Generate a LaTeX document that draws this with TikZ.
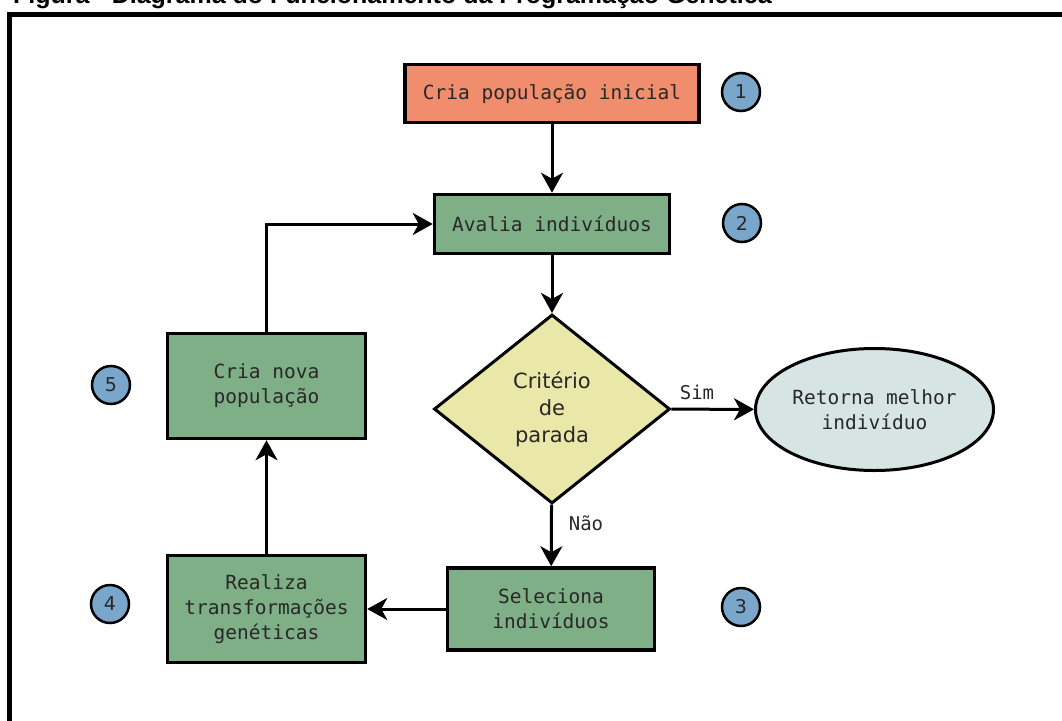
\documentclass[tikz,border=0pt]{standalone}
\usepackage{fontspec}
\setmainfont{DejaVu Sans}
\setmonofont{DejaVu Sans Mono}
\newfontfamily\titlefont{Liberation Sans}
\usetikzlibrary{shapes.geometric,arrows.meta}
\definecolor{boxorange}{RGB}{240,141,109}
\definecolor{boxgreen}{RGB}{127,175,134}
\definecolor{diayellow}{RGB}{234,232,168}
\definecolor{ellblue}{RGB}{214,228,228}
\definecolor{numblue}{RGB}{122,166,203}
\definecolor{txt}{RGB}{40,40,40}
\begin{document}
\begin{tikzpicture}[x=1pt,y=-1pt,
  proc/.style={draw=black, line width=3.5pt, rectangle, inner sep=0pt,
    font=\fontsize{19.5}{25}\selectfont\ttfamily, text=txt, align=center},
  numcirc/.style={circle, draw=black, line width=2.5pt, fill=numblue,
    minimum size=38pt, inner sep=0pt, font=\fontsize{19}{19}\selectfont, text=txt},
  conn/.style={line width=3pt, -{Stealth[length=20pt,width=22pt,inset=6pt]}},
  lbl/.style={font=\fontsize{19}{19}\selectfont\ttfamily, text=txt}
]
\useasboundingbox (0,0) rectangle (1062,720);
\clip (0,0) rectangle (1062,720);
\fill[white] (0,0) rectangle (1062,720);

% title (mostly cropped) and frame
\node[anchor=base west, inner sep=0pt, text=black,
  font=\titlefont\fontsize{25}{25}\selectfont\bfseries] (title) at (13,4)
  {Figura - Diagrama do Funcionamento da Programação Genética};
\draw[line width=5pt] (9,740) -- (9,14.5) -- (1080,14.5);

% process nodes
\node[proc, fill=boxorange, minimum width=294pt, minimum height=58pt] (init) at (552,93.5) {Cria população inicial};
\node[proc, fill=boxgreen, minimum width=235pt, minimum height=59pt] (eval) at (552,224) {Avalia indivíduos};
\node[diamond, draw=black, line width=3pt, fill=diayellow, minimum width=236pt, minimum height=189pt,
  inner sep=0pt, align=center, font=\fontsize{21}{27}\selectfont, text=txt] (dec) at (552,409) {Critério\\de\\parada};
\node[ellipse, draw=black, line width=3pt, fill=ellblue, minimum width=238pt, minimum height=122pt,
  inner sep=0pt, align=center, font=\fontsize{19.5}{25}\selectfont\ttfamily, text=txt] (best) at (874.5,409.5) {Retorna melhor\\indivíduo};
\node[proc, fill=boxgreen, minimum width=207pt, minimum height=82pt] (sel) at (551,609) {Seleciona\\indivíduos};
\node[proc, fill=boxgreen, minimum width=198pt, minimum height=107pt] (gen) at (266.5,609) {Realiza\\transformações\\genéticas};
\node[proc, fill=boxgreen, minimum width=198pt, minimum height=105pt] (newpop) at (266.5,386) {Cria nova\\população};

% numbered circles
\node[numcirc] (n1) at (741,92) {1};
\node[numcirc] (n2) at (742,223) {2};
\node[numcirc] (n3) at (741,607) {3};
\node[numcirc] (n4) at (110,604) {4};
\node[numcirc] (n5) at (111,385) {5};

% connectors
\draw[conn] (init) -- (eval);
\draw[conn] (eval) -- (dec);
\draw[conn] (dec) -- (best);
\draw[conn] (dec) -- (sel);
\draw[conn] (sel) -- (gen);
\draw[conn] (gen) -- (newpop);
\draw[conn] (newpop.north) |- (eval.west);

% labels
\node[lbl] (sim) at (697,392) {Sim};
\node[lbl] (nao) at (586,523) {Não};
\end{tikzpicture}
\end{document}
